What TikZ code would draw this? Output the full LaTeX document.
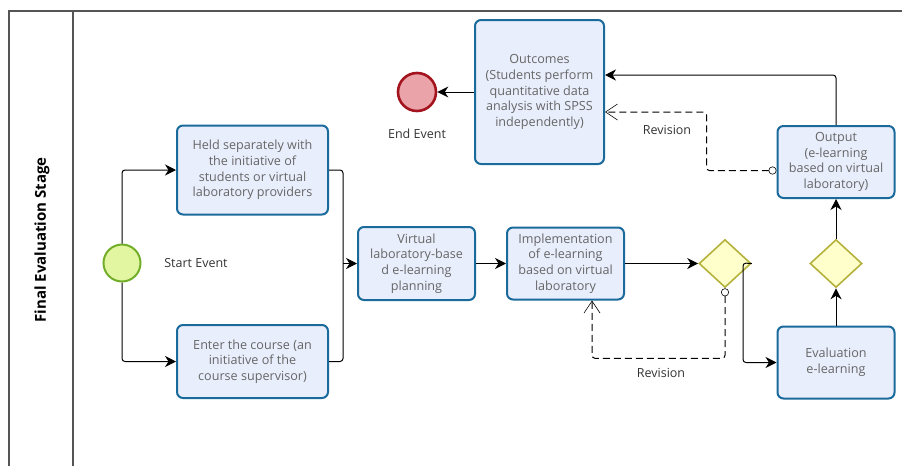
\documentclass[tikz,border=0pt]{standalone}
\usepackage{fontspec}
\setmainfont{Open Sans}
\usetikzlibrary{arrows,arrows.meta,shapes.geometric}

\definecolor{taskfill}{HTML}{E9EEFC}
\definecolor{taskline}{HTML}{1A6B9C}
\definecolor{tasktext}{HTML}{666666}
\definecolor{gatefill}{HTML}{FFFFCC}
\definecolor{gateline}{HTML}{B5B23C}
\definecolor{startfill}{HTML}{E2F6A2}
\definecolor{startline}{HTML}{73AE2A}
\definecolor{endfill}{HTML}{EBA3AA}
\definecolor{endline}{HTML}{A3141E}
\definecolor{poolline}{HTML}{555555}

\begin{document}
\begin{tikzpicture}[x=1pt,y=-1pt,>={Stealth[length=11pt,width=11pt,inset=3.5pt]},node distance=149pt,
  task/.style={rectangle,rounded corners=6pt,draw=taskline,line width=2pt,fill=taskfill,
    text=tasktext,align=center,font=\fontsize{12.6}{15.6}\selectfont,inner sep=1pt,
    minimum width=117pt,minimum height=72pt},
  gate/.style={diamond,draw=gateline,fill=gatefill,line width=1.6pt,
    minimum width=52pt,minimum height=48pt,inner sep=0pt},
  startev/.style={circle,draw=startline,fill=startfill,line width=2pt,minimum size=37pt,inner sep=0pt},
  endev/.style={circle,draw=endline,fill=endfill,line width=2.6pt,minimum size=38pt,inner sep=0pt},
  lbl/.style={font=\fontsize{12.5}{14}\selectfont,text=black!80},
  flow/.style={draw=black,line width=1pt,rounded corners=3pt},
  msg/.style={draw=black,line width=1pt,dash pattern=on 7pt off 4pt,rounded corners=3pt,
    {Circle[open,length=8pt,fill=white,line width=0.6pt]}-{Straight Barb[length=12pt,width=16pt,line width=0.6pt]}},
  pool/.style={draw=poolline,line width=1.3pt}]

\useasboundingbox (0,0) rectangle (902,466);

% pool and lane
\draw[pool] (902,11) -- (9,11) -- (9,466);
\draw[pool] (73,11) -- (73,466);
\node[rotate=90,font=\bfseries\fontsize{15}{18}\selectfont] (lane) at (42,240) {Final Evaluation Stage};

% events
\node[startev] (start) at (122,263) {};
\node[lbl] (startlbl) [right of=start,node distance=74pt] {Start Event};
\node[endev] (end) at (417,92) {};
\node[lbl] (endlbl) [below of=end,node distance=42pt] {End Event};

% tasks
\node[task,minimum width=151pt,minimum height=89pt] (held) at (252.5,170)
  {Held separately with\\the initiative of\\students or virtual\\laboratory providers};
\node[task,minimum width=151pt,minimum height=73pt] (enter) at (252.5,361.5)
  {Enter the course (an\\initiative of the\\course supervisor)};
\node[task,minimum height=73pt] (plan) at (416.5,263.5)
  {Virtual\\laboratory-base\\d e-learning\\planning};
\node[task] (impl) [right of=plan] {Implementation\\of e-learning\\based on virtual\\laboratory};
\node[gate] (gw1) [right of=impl,node distance=159.5pt] {};
\node[gate] (gw2) [right of=gw1,node distance=111pt] {};
\node[task] (eval) [below of=gw2,node distance=99pt] {Evaluation\\e-learning};
\node[task] (output) [above of=gw2,node distance=101.5pt] {Output\\(e-learning\\based on virtual\\laboratory)};
\node[task,minimum width=129pt,minimum height=144pt] (outcomes) at (539.5,92)
  {Outcomes\\(Students perform\\quantitative data\\analysis with SPSS\\independently)};

% sequence flows
\coordinate (join) at (343,263.5);
\coordinate (split) at (743,263);
\draw[flow,->] (start.north) |- (held.west);
\draw[flow,->] (start.south) |- (enter.west);
\draw[flow] (held.east) -| (join);
\draw[flow] (enter.east) -| (join);
\draw[flow,->] (join) -- (plan.west);
\draw[flow,->] (plan) -- (impl);
\draw[flow,->] (impl) -- (gw1);
\draw[flow,->] (gw1.east) -- (split) |- (eval.west);
\draw[flow,->] (eval) -- (gw2);
\draw[flow,->] (gw2) -- (output);
\draw[flow,->] (output.north) |- ([yshift=17pt]outcomes.east);
\draw[flow,->] (outcomes.west) -- (end);

% revisions
\draw[msg] (gw1.south) -- ++(0,70) -| ([xshift=26.5pt]impl.south);
\node[lbl] (rev1) at (661,373) {Revision};
\draw[msg] ([yshift=-8.5pt]output.west) -- ++(-70,0) |- ([yshift=-20pt]outcomes.east);
\node[lbl] (rev2) at (667,130) {Revision};

\end{tikzpicture}
\end{document}
